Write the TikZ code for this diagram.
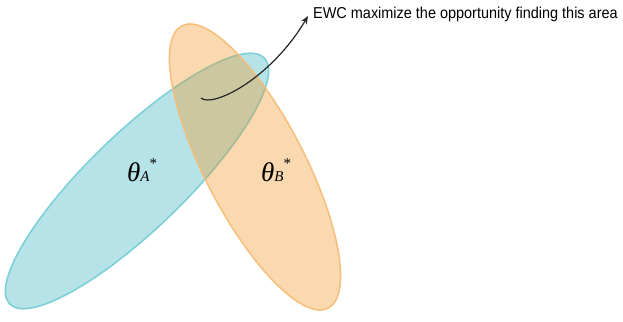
\documentclass[tikz,border=0pt]{standalone}
\usepackage{fontspec}
\setmainfont{Liberation Serif}
\newfontfamily\arialfont{Liberation Sans}
\usetikzlibrary{arrows.meta}
\definecolor{bluefill}{RGB}{182,227,232}
\definecolor{bluestroke}{RGB}{125,207,216}
\definecolor{orangebase}{RGB}{242,147,30}
\definecolor{orangestroke}{RGB}{246,188,118}
\tikzset{
  blueell/.style={fill=bluefill, draw=bluestroke, line width=1.6pt},
  orangeell/.style={fill=orangebase, fill opacity=0.35, draw=orangestroke, draw opacity=0.9, line width=1.6pt},
  thetalbl/.style={anchor=base west, inner sep=0pt, font=\itshape},
  notetext/.style={anchor=base west, inner sep=0pt, font=\arialfont\fontsize{14.6}{16}\selectfont},
  callout/.style={draw=black!85, line width=1.2pt, -{Stealth[length=8pt,width=6.5pt]}}
}
\newcommand{\thetalabel}[1]{{\fontsize{27}{27}\selectfont θ}{\fontsize{15}{15}\selectfont #1}\raisebox{13pt}{\upshape\fontsize{15}{15}\selectfont *}}
\begin{document}
\begin{tikzpicture}[x=1pt,y=1pt]
\useasboundingbox (0,0) rectangle (623,321);
% ellipses
\draw[blueell, rotate around={44:(137,140)}] (137,140) ellipse [x radius=177, y radius=48];
\draw[orangeell, rotate around={-62.6:(255,154)}] (255,154) ellipse [x radius=159, y radius=50];
% labels
\node[thetalbl] (ta) at (127,139) {\thetalabel{A}};
\node[thetalbl] (tb) at (261,139) {\thetalabel{B}};
% callout
\coordinate (start) at (201,223);
\node[notetext] (ewc) at (313,302.7) {\scalebox{0.99}[1.08]{EWC maximize the opportunity finding this area}};
\coordinate (tip) at (308,305);
\draw[callout] (start) .. controls (212,213) and (270,241) .. (tip);
\end{tikzpicture}
\end{document}
